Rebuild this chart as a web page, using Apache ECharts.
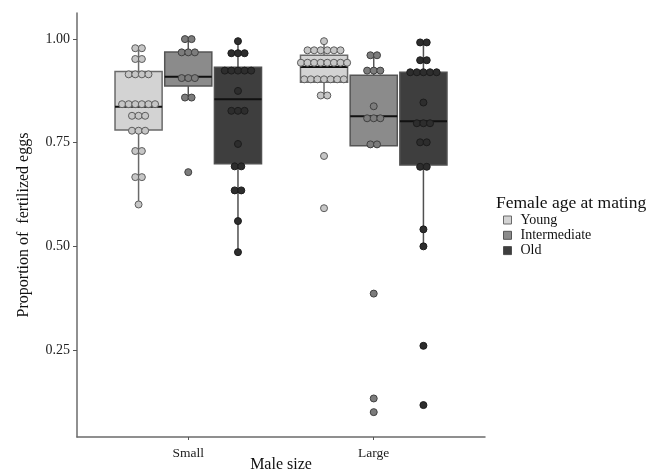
<!DOCTYPE html>
<html>
<head>
<meta charset="utf-8">
<script src="https://cdn.jsdelivr.net/npm/echarts@6/dist/echarts.min.js"></script>
<style>html,body{margin:0;padding:0;background:#fff}#c{width:663px;height:471px}</style>
</head>
<body>
<div id="c"></div>
<script>
// ---- data ----
var categories = ['Small', 'Large'];
var groups = ['Young', 'Intermediate', 'Old'];
var yTicks = [0.25, 0.50, 0.75, 1.00];
// box stats per male size: [min, Q1, median, Q3, max]
var youngBox = [[0.601, 0.781, 0.837, 0.922, 0.978], [0.862, 0.896, 0.933, 0.961, 0.995]];
var interBox = [[0.859, 0.887, 0.909, 0.969, 1.000], [0.743, 0.743, 0.814, 0.913, 0.961]];
var oldBox   = [[0.486, 0.699, 0.855, 0.932, 0.995], [0.500, 0.696, 0.802, 0.920, 0.992]];
// individual observations per male size
var youngPts = [
  [0.978,0.978,0.952,0.952,0.915,0.915,0.915,0.915,0.843,0.843,0.843,0.843,0.843,0.843,0.815,0.815,0.815,0.779,0.779,0.779,0.730,0.730,0.667,0.667,0.601],
  [0.995,0.973,0.973,0.973,0.973,0.973,0.973,0.943,0.943,0.943,0.943,0.943,0.943,0.943,0.943,0.903,0.903,0.903,0.903,0.903,0.903,0.903,0.864,0.864,0.718,0.592]
];
var interPts = [
  [1.000,1.000,0.968,0.968,0.968,0.906,0.906,0.906,0.859,0.859,0.679],
  [0.961,0.961,0.924,0.924,0.924,0.838,0.809,0.809,0.809,0.746,0.746,0.386,0.133,0.100]
];
var oldPts = [
  [0.995,0.966,0.966,0.966,0.924,0.924,0.924,0.924,0.924,0.875,0.827,0.827,0.827,0.747,0.693,0.693,0.635,0.635,0.561,0.486],
  [0.992,0.992,0.949,0.949,0.920,0.920,0.920,0.920,0.920,0.847,0.797,0.797,0.797,0.751,0.751,0.692,0.692,0.541,0.500,0.260,0.117]
];

// ---- styles ----
var FONT = 'Liberation Serif';
var boxFill = ['#d3d3d3', '#8b8b8b', '#3e3e3e'];
var boxLine = ['#6a6a6a', '#555555', '#505050'];
var dotFill = ['#c6c6c6', '#7c7c7c', '#2d2d2d'];
var dotLine = ['#5c5c5c', '#404040', '#1c1c1c'];
var dodge = [-0.268, 0, 0.268];
var boxW = 0.254;
var dotStep = 6.6;

var boxData = [youngBox, interBox, oldBox];
var ptsData = [youngPts, interPts, oldPts];

var series = [];
groups.forEach(function (g, gi) {
  var data = boxData[gi].map(function (s, ci) { return [ci + 1].concat(s); });
  series.push({
    type: 'custom', name: g, z: 2,
    itemStyle: { color: boxFill[gi], borderColor: boxLine[gi] },
    encode: { x: 0, y: [1, 2, 3, 4, 5] },
    data: data,
    renderItem: function (params, api) {
      var xv = api.value(0) + dodge[gi];
      var pMin = api.coord([xv, api.value(1)]);
      var pQ1 = api.coord([xv, api.value(2)]);
      var pMed = api.coord([xv, api.value(3)]);
      var pQ3 = api.coord([xv, api.value(4)]);
      var pMax = api.coord([xv, api.value(5)]);
      var w = api.size([boxW, 0])[0];
      var cx = pMed[0];
      return { type: 'group', children: [
        { type: 'line', shape: { x1: cx, y1: pMin[1], x2: cx, y2: pQ1[1] }, style: { stroke: boxLine[gi], lineWidth: 1.5 } },
        { type: 'line', shape: { x1: cx, y1: pQ3[1], x2: cx, y2: pMax[1] }, style: { stroke: boxLine[gi], lineWidth: 1.5 } },
        { type: 'rect', shape: { x: cx - w / 2, y: pQ3[1], width: w, height: pQ1[1] - pQ3[1] }, style: { fill: boxFill[gi], stroke: boxLine[gi], lineWidth: 1.5 } },
        { type: 'line', shape: { x1: cx - w / 2, y1: pMed[1], x2: cx + w / 2, y2: pMed[1] }, style: { stroke: '#111', lineWidth: 2 } }
      ]};
    }
  });
});
groups.forEach(function (g, gi) {
  var data = [];
  ptsData[gi].forEach(function (vals, ci) {
    var counts = {};
    vals.forEach(function (v) { counts[v] = (counts[v] || 0) + 1; });
    var seen = {};
    vals.forEach(function (v) {
      var k = seen[v] || 0; seen[v] = k + 1;
      var off = (k - (counts[v] - 1) / 2) * dotStep;
      data.push({ value: [ci + 1 + dodge[gi], v], symbolOffset: [off, 0] });
    });
  });
  series.push({
    type: 'scatter', name: g, z: 3, symbol: 'circle', symbolSize: 7,
    itemStyle: { color: dotFill[gi], borderColor: dotLine[gi], borderWidth: 1, opacity: 1 },
    emphasis: { disabled: true },
    data: data
  });
});

var chart = echarts.init(document.getElementById('c'));
chart.setOption({
  animation: false,
  backgroundColor: '#fff',
  grid: { left: 77, right: 178, top: 13, bottom: 34, outerBoundsMode: 'none', containLabel: false },
  title: {
    text: 'Female age at mating', left: 496, top: 194, padding: 0,
    textStyle: { fontFamily: FONT, fontSize: 17.5, fontWeight: 'normal', color: '#111' }
  },
  legend: {
    orient: 'vertical', left: 503, top: 213, padding: 0,
    itemWidth: 8, itemHeight: 8, itemGap: 1.3,
    selectedMode: false,
    textStyle: { fontFamily: FONT, fontSize: 14, color: '#111', lineHeight: 14, padding: [0, 0, 0, 4] },
    data: groups.map(function (g, gi) {
      return { name: g, icon: 'rect', itemStyle: { color: boxFill[gi], borderColor: boxLine[gi], borderWidth: 1 } };
    })
  },
  xAxis: {
    type: 'value', min: 0.4, max: 2.6,
    name: 'Male size', nameLocation: 'middle', nameGap: 19.5, nameMoveOverlap: false,
    nameTextStyle: { fontFamily: FONT, fontSize: 16, color: '#111', verticalAlign: 'top' },
    splitLine: { show: false },
    axisLine: { show: true, onZero: false, lineStyle: { color: '#6b6b6b', width: 1.5 } },
    axisTick: { show: true, length: 3, customValues: [1, 2], lineStyle: { color: '#555' } },
    axisLabel: {
      customValues: [1, 2], margin: 9,
      fontFamily: FONT, fontSize: 13.5, color: '#222',
      formatter: function (v) { return categories[Math.round(v) - 1] || ''; }
    }
  },
  yAxis: {
    type: 'value', min: 0.04, max: 1.063,
    name: 'Proportion of  fertilized eggs', nameLocation: 'middle', nameGap: 45,
    nameTextStyle: { fontFamily: FONT, fontSize: 16, color: '#111' },
    splitLine: { show: false },
    axisLine: { show: true, onZero: false, lineStyle: { color: '#6b6b6b', width: 1.5 } },
    axisTick: { show: true, length: 4, customValues: yTicks, lineStyle: { color: '#555' } },
    axisLabel: {
      customValues: yTicks, margin: 7,
      fontFamily: FONT, fontSize: 14, color: '#222',
      formatter: function (v) { return v.toFixed(2); }
    }
  },
  series: series
});
</script>
</body>
</html>
